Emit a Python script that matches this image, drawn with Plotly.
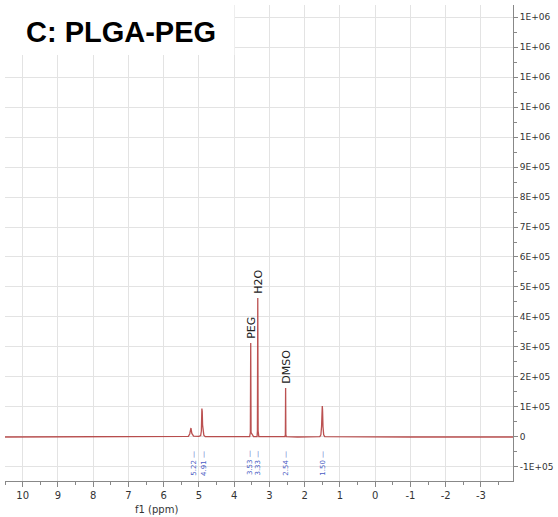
import plotly.graph_objects as go

# Spectrum trace (ppm, intensity)
spectrum_ppm = [10.5, 8.0, 6.0, 5.40, 5.30, 5.26, 5.225, 5.20, 5.15, 5.00, 4.95, 4.93, 4.915, 4.905, 4.895,
                4.88, 4.86, 4.82, 4.2, 3.56, 3.54, 3.53, 3.52, 3.45, 3.35, 3.34, 3.33, 3.32, 3.30,
                3.0, 2.56, 2.547, 2.54, 2.533, 2.52, 2.2, 1.57, 1.54, 1.52, 1.508, 1.50, 1.492, 1.48,
                1.46, 1.43, 0.5, -1.0, -3.91]
spectrum_int = [0, 0, 0, 1000, 2000, 10000, 30000, 12000, 3000, 2000, 5000, 20000, 95000, 85000, 40000,
                20000, 6000, 1000, 0, 1000, 15000, 313000, 15000, 1000, 1000, 20000, 463000, 20000, 1000,
                0, 1000, 8000, 163000, 8000, 1000, 0, 1000, 7000, 35000, 90000, 103000, 90000, 35000,
                7000, 1000, 0, 0, 0]

peak_labels = ["5.22", "4.91", "3.53", "3.33", "2.54", "1.50"]
peak_label_pos = [5.15, 4.86, 3.55, 3.31, 2.54, 1.49]

compound_names = ["PEG", "H2O", "DMSO"]
compound_ppm = [3.53, 3.33, 2.54]
compound_height = [313000, 463000, 163000]

x_ticks = list(range(10, -4, -1))
y_ticks = [i * 100000 for i in range(-1, 15)]
y_ticktext = ["-1E+05", "0", "1E+05", "2E+05", "3E+05", "4E+05", "5E+05", "6E+05", "7E+05",
              "8E+05", "9E+05", "1E+06", "1E+06", "1E+06", "1E+06", "1E+06"]

title_text = "C: PLGA-PEG"
x_title = "f1 (ppm)"

fig = go.Figure()
fig.add_trace(go.Scatter(x=spectrum_ppm, y=spectrum_int, mode="lines",
                         line=dict(color="rgba(175,50,50,0.85)", width=1.3),
                         hoverinfo="skip", showlegend=False))

for lab, pos in zip(peak_labels, peak_label_pos):
    fig.add_annotation(x=pos, y=-87000, text=lab + " —", textangle=-90, showarrow=False,
                       font=dict(family="DejaVu Sans", size=7, color="#4b5cc4"),
                       xanchor="center", yanchor="middle")

for name, pos, h in zip(compound_names, compound_ppm, compound_height):
    fig.add_annotation(x=pos, y=h, text=name, textangle=-90, showarrow=False,
                       font=dict(family="DejaVu Sans", size=11, color="#222"),
                       xanchor="center", yanchor="bottom", yshift=2)

# x-axis title (offset to the left as in the original)
fig.add_annotation(x=6.2, xref="x", y=-0.044, yref="paper", text=x_title, showarrow=False,
                   font=dict(family="DejaVu Sans", size=10, color="#333"),
                   xanchor="center", yanchor="top")

# white title box
fig.add_shape(type="rect", xref="paper", yref="paper", x0=-0.02, x1=0.4516, y0=0.895, y1=1.03,
              fillcolor="white", line=dict(width=0), layer="above")
fig.add_annotation(xref="paper", yref="paper", x=0.229, y=0.943, text="<b>" + title_text + "</b>",
                   showarrow=False, font=dict(family="Liberation Sans, Arial", size=29, color="black"),
                   xanchor="center", yanchor="middle")

fig.update_layout(
    width=558, height=517,
    margin=dict(l=5, r=37, t=5, b=36),
    paper_bgcolor="white", plot_bgcolor="white",
    showlegend=False,
    xaxis=dict(range=[10.5, -3.91], tickvals=x_ticks, ticktext=[str(v) for v in x_ticks],
               showgrid=True, gridcolor="#e3e3e3", gridwidth=1, zeroline=False,
               showline=True, linecolor="#888", linewidth=1,
               ticks="outside", ticklen=5, tickcolor="#888",
               minor=dict(dtick=0.5, tick0=0, ticks="outside", ticklen=3, tickcolor="#888", showgrid=False),
               tickfont=dict(family="DejaVu Sans", size=10, color="#333")),
    yaxis=dict(range=[-146700, 1440000], side="right", tickvals=y_ticks, ticktext=y_ticktext,
               showgrid=True, gridcolor="#e3e3e3", gridwidth=1, zeroline=False,
               showline=True, linecolor="#888", linewidth=1,
               ticks="outside", ticklen=4, tickcolor="#888",
               minor=dict(dtick=50000, tick0=0, ticks="outside", ticklen=3, tickcolor="#888", showgrid=False),
               tickfont=dict(family="DejaVu Sans", size=9, color="#333")),
)

fig.write_html("out.html")
